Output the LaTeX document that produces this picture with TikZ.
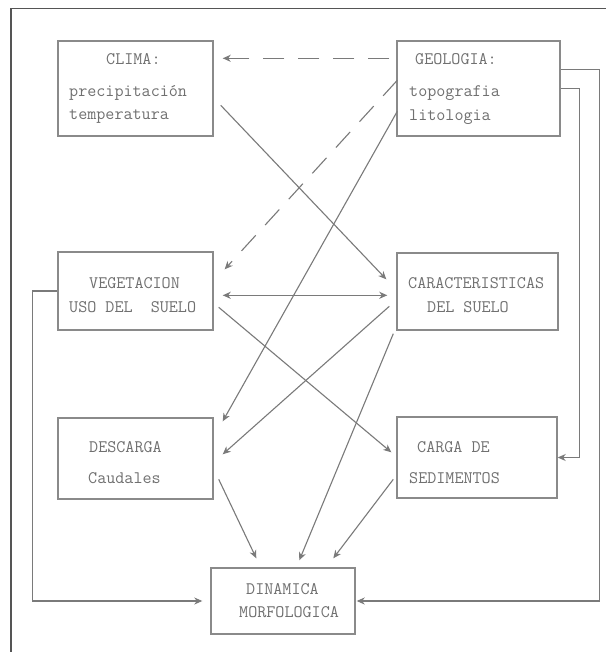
\documentclass[tikz,border=0pt]{standalone}
\usepackage{fontspec}
\usetikzlibrary{arrows.meta,calc}
\definecolor{framecol}{HTML}{555555}
\definecolor{boxcol}{HTML}{8A8A8A}
\definecolor{linecol}{HTML}{7A7A7A}
\definecolor{txtcol}{HTML}{707070}
\tikzset{
  tip/.tip={Stealth[length=8pt,width=7pt,inset=2.5pt]},
  stagebox/.style={draw=boxcol, line width=1.4pt, rectangle, inner sep=0pt},
  lbl/.style={anchor=west, inner sep=0pt, text=txtcol, font=\ttfamily\fontsize{17.6}{20}\selectfont},
  link/.style={draw=linecol, line width=1.1pt, -tip},
  dlink/.style={link, dash pattern=on 21pt off 14pt},
  twoway/.style={draw=linecol, line width=1.6pt, tip-tip},
}
\begin{document}
\begin{tikzpicture}[x=1pt,y=-1pt]
\useasboundingbox (0,0) rectangle (606,652);
\fill[white] (0,0) rectangle (606,652);
% page frame
\draw[framecol, line width=1.5pt] (11,652) -- (11,8.5) -- (606,8.5);

% boxes
\node[stagebox, minimum width=155pt, minimum height=95pt] (clima) at (135.5,88.5) {};
\node[stagebox, minimum width=163pt, minimum height=95pt] (geo) at (478.5,88.5) {};
\node[stagebox, minimum width=155pt, minimum height=78pt] (veg) at (135.5,291) {};
\node[stagebox, minimum width=161pt, minimum height=77pt] (car) at (477.5,291.5) {};
\node[stagebox, minimum width=155pt, minimum height=81pt] (des) at (135.5,458.5) {};
\node[stagebox, minimum width=160pt, minimum height=81pt] (carga) at (477,457.5) {};
\node[stagebox, minimum width=144pt, minimum height=66pt] (din) at (283,601) {};

% box texts
\node[lbl] (climaA) at (106,59) {CLIMA:};
\node[lbl] (climaB) at (69,93) {precipitación};
\node[lbl] (climaC) at (69,117) {temperatura};
\node[lbl] (geoA) at (415,59) {GEOLOGIA:};
\node[lbl] (geoB) at (409,93) {topografia};
\node[lbl] (geoC) at (409,117) {litologia};
\node[lbl] (vegA) at (89,283) {VEGETACION};
\node[lbl] (vegB) at (69,307) {USO DEL\ \ SUELO};
\node[lbl] (carA) at (408,283) {CARACTERISTICAS};
\node[lbl] (carB) at (427,307) {DEL SUELO};
\node[lbl] (desA) at (89,447) {DESCARGA};
\node[lbl] (desB) at (88,478) {Caudales};
\node[lbl] (cargaA) at (417,447) {CARGA DE};
\node[lbl] (cargaB) at (409,478) {SEDIMENTOS};
\node[lbl] (dinA) at (246,589) {DINAMICA};
\node[lbl] (dinB) at (239,612) {MORFOLOGICA};

% dashed influences of geology
\draw[dlink] ($(geo.north west)+(-7,18)$) -- ($(clima.north east)+(9,18)$);
\draw[dlink] ($(geo.north west)+(1,40)$) -- ($(veg.north east)+(11,18)$);

% solid influences
\draw[link] ($(geo.north west)+(1,71)$) -- ($(des.north east)+(9,4)$);
\draw[link] ($(clima.north east)+(7,65)$) -- ($(car.north west)+(-10,27)$);
\draw[twoway] ($(veg.north east)+(9,44)$) -- ($(car.north west)+(-9,43)$);
\draw[link] ($(car.north west)+(-7,54)$) -- ($(des.north east)+(9,37)$);
\draw[link] ($(veg.north east)+(5,56)$) -- ($(carga.north west)+(-5,36)$);
\draw[link] ($(car.south west)+(-3,3)$) -- ($(din.north west)+(89,-7)$);
\draw[link] ($(des.north east)+(5,62)$) -- ($(din.north west)+(46,-9)$);
\draw[link] ($(carga.north west)+(-3,63)$) -- ($(din.north west)+(123,-9)$);

% side loops
\draw[link] (veg.west) -- ($(veg.west)+(-25,0)$) |- ([xshift=-8pt]din.west);
\draw[link] ($(geo.north east)+(0,29)$) -- ++(39,0) |- ([xshift=1pt]din.east);
\draw[link] (geo.east) -- ++(19,0) |- (carga.east);
\end{tikzpicture}
\end{document}
